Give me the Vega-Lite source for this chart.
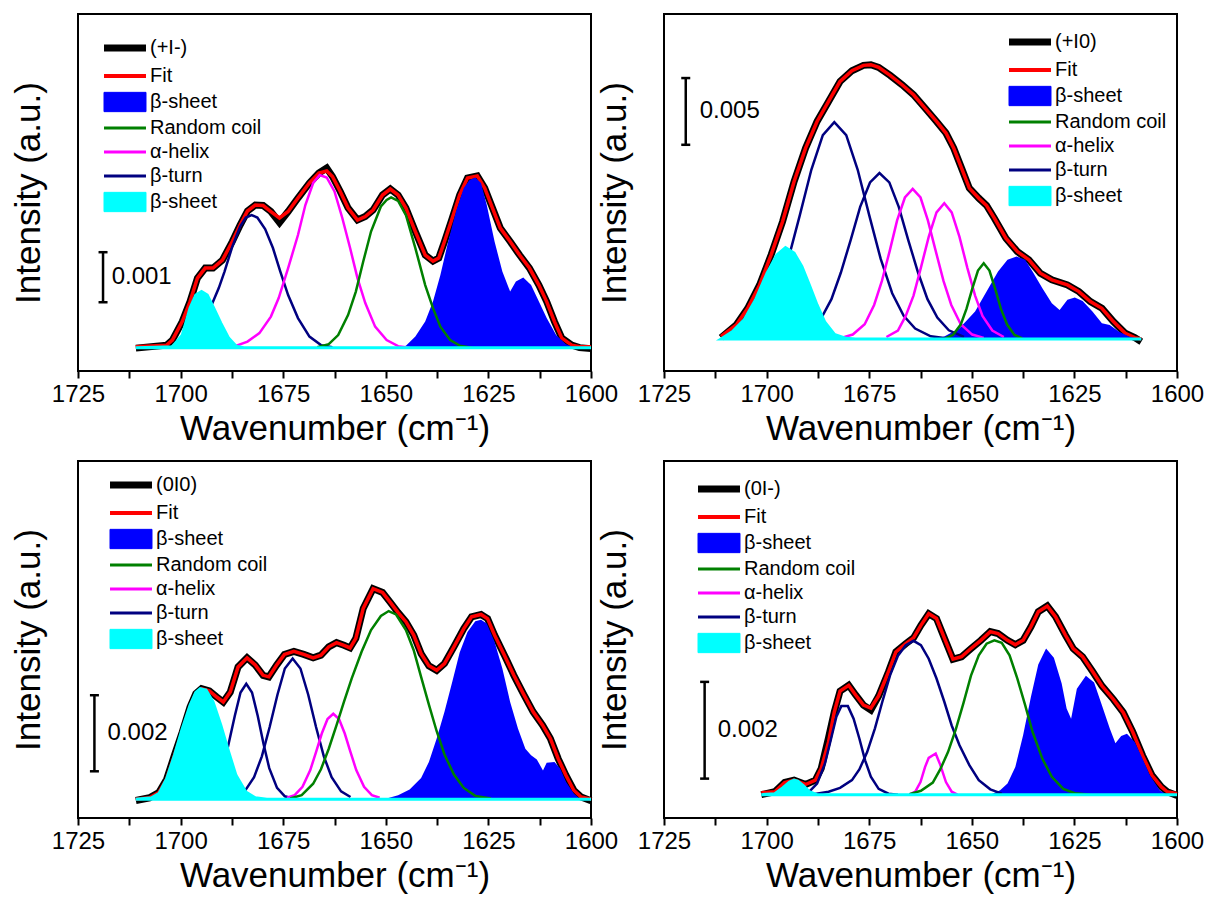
{
"$schema": "https://vega.github.io/schema/vega-lite/v6.json",
"padding": {"left": 10, "top": 12, "right": 0, "bottom": 0},
"config": {
  "font": "Liberation Sans",
  "view": {"stroke": "#000000", "strokeWidth": 2},
  "axis": {"grid": false, "labelColor": "#000000", "titleColor": "#000000", "tickColor": "#000000", "labelFont": "Liberation Sans", "titleFont": "Liberation Sans", "titleFontWeight": "normal"},
  "legend": {"labelFontSize": 20, "labelFont": "Liberation Sans", "labelColor": "#000000", "padding": 0, "rowPadding": 4, "symbolSize": 282, "labelOffset": 15, "labelLimit": 0}
},
"datasets": {
"bars": [
{"p":1,"x":1718.9,"v1":0.000907,"v2":0.001907,"vm":0.001407,"lx":1716.8,"lab":"0.001"},
{"p":2,"x":1719.7,"v1":0.01455,"v2":0.01955,"vm":0.01705,"lx":1716.3,"lab":"0.005"},
{"p":3,"x":1721.0,"v1":0.000737,"v2":0.002737,"vm":0.001737,"lx":1717.8,"lab":"0.002"},
{"p":4,"x":1715.1,"v1":0.000331,"v2":0.002331,"vm":0.001331,"lx":1711.9,"lab":"0.002"}
],
"o1": [
{"x":1710.9,"data":-0.00001,"fit":0.00002},{"x":1703.4,"data":0.00005,"fit":0.00005},{"x":1702.0,"data":0.00015,"fit":0.00015},{"x":1699.6,"data":0.00052,"fit":0.00052},{"x":1697.7,"data":0.00092,"fit":0.00092},{"x":1695.9,"data":0.00139,"fit":0.00139},{"x":1694.0,"data":0.00159,"fit":0.00159},{"x":1692.1,"data":0.00159,"fit":0.00159},{"x":1689.8,"data":0.00175,"fit":0.00175},{"x":1687.4,"data":0.00212,"fit":0.00212},{"x":1685.5,"data":0.00245,"fit":0.00245},{"x":1683.7,"data":0.00273,"fit":0.00273},{"x":1681.8,"data":0.00285,"fit":0.00285},{"x":1679.9,"data":0.00284,"fit":0.00284},{"x":1678.0,"data":0.00272,"fit":0.00272},{"x":1675.9,"data":0.0025,"fit":0.00259},{"x":1673.8,"data":0.00272,"fit":0.00272},{"x":1671.4,"data":0.00299,"fit":0.00299},{"x":1668.6,"data":0.00329,"fit":0.00329},{"x":1666.3,"data":0.00349,"fit":0.00349},{"x":1664.4,"data":0.00359,"fit":0.00353},{"x":1663.0,"data":0.00342,"fit":0.00342},{"x":1661.1,"data":0.00312,"fit":0.00312},{"x":1659.2,"data":0.00279,"fit":0.00279},{"x":1656.9,"data":0.00255,"fit":0.00255},{"x":1655.0,"data":0.00262,"fit":0.00262},{"x":1653.1,"data":0.00275,"fit":0.00275},{"x":1650.8,"data":0.00305,"fit":0.00305},{"x":1648.9,"data":0.00317,"fit":0.00317},{"x":1647.0,"data":0.00305,"fit":0.00305},{"x":1645.1,"data":0.00279,"fit":0.00279},{"x":1642.8,"data":0.00232,"fit":0.00232},{"x":1640.4,"data":0.00185,"fit":0.00185},{"x":1638.5,"data":0.00173,"fit":0.00173},{"x":1637.1,"data":0.00179,"fit":0.00179},{"x":1635.7,"data":0.00212,"fit":0.00212},{"x":1633.8,"data":0.00259,"fit":0.00259},{"x":1632.0,"data":0.00305,"fit":0.00305},{"x":1630.1,"data":0.00339,"fit":0.00339},{"x":1627.7,"data":0.00343,"fit":0.00343},{"x":1625.9,"data":0.00319,"fit":0.00319},{"x":1624.0,"data":0.00279,"fit":0.00279},{"x":1622.1,"data":0.00239,"fit":0.00239},{"x":1619.7,"data":0.00212,"fit":0.00212},{"x":1617.4,"data":0.00185,"fit":0.00185},{"x":1615.0,"data":0.00159,"fit":0.00159},{"x":1612.7,"data":0.00125,"fit":0.00125},{"x":1610.8,"data":0.00092,"fit":0.00092},{"x":1608.9,"data":0.00052,"fit":0.00052},{"x":1607.1,"data":0.00019,"fit":0.00019},{"x":1604.7,"data":0.00005,"fit":0.00005},{"x":1602.8,"data":0.0,"fit":0.00002},{"x":1600.0,"data":-0.00002,"fit":0.00002}
],
"c1": [
{"s":"bs2","k":"bs2","x":1710.9,"y":0},{"s":"bs2","k":"bs2","x":1702.0,"y":0.00002},{"s":"bs2","k":"bs2","x":1699.6,"y":0.00025},{"s":"bs2","k":"bs2","x":1697.7,"y":0.00079},{"s":"bs2","k":"bs2","x":1696.3,"y":0.00105},{"s":"bs2","k":"bs2","x":1694.9,"y":0.00112},{"s":"bs2","k":"bs2","x":1693.5,"y":0.00105},{"s":"bs2","k":"bs2","x":1692.1,"y":0.00082},{"s":"bs2","k":"bs2","x":1690.2,"y":0.00049},{"s":"bs2","k":"bs2","x":1688.3,"y":0.00019},{"s":"bs2","k":"bs2","x":1686.5,"y":0.00003},{"s":"bs2","k":"bs2","x":1684.6,"y":0},{"s":"bs2","k":"bs2","x":1600,"y":0},
{"s":"bt","k":"bt","x":1702.4,"y":0.00001},{"s":"bt","k":"bt","x":1699.6,"y":0.00005},{"s":"bt","k":"bt","x":1696.8,"y":0.00022},{"s":"bt","k":"bt","x":1694.9,"y":0.00042},{"s":"bt","k":"bt","x":1692.6,"y":0.00082},{"s":"bt","k":"bt","x":1690.7,"y":0.00119},{"s":"bt","k":"bt","x":1689.3,"y":0.00152},{"s":"bt","k":"bt","x":1687.4,"y":0.00202},{"s":"bt","k":"bt","x":1685.5,"y":0.00242},{"s":"bt","k":"bt","x":1684.1,"y":0.0026},{"s":"bt","k":"bt","x":1682.7,"y":0.00265},{"s":"bt","k":"bt","x":1681.3,"y":0.0026},{"s":"bt","k":"bt","x":1679.4,"y":0.00237},{"s":"bt","k":"bt","x":1677.5,"y":0.00199},{"s":"bt","k":"bt","x":1675.7,"y":0.00152},{"s":"bt","k":"bt","x":1673.8,"y":0.00105},{"s":"bt","k":"bt","x":1671.4,"y":0.00059},{"s":"bt","k":"bt","x":1668.6,"y":0.00022},{"s":"bt","k":"bt","x":1665.8,"y":0.00005},{"s":"bt","k":"bt","x":1663.0,"y":0.00001},
{"s":"ah","k":"ah","x":1687.4,"y":0.00001},{"s":"ah","k":"ah","x":1683.7,"y":0.00012},{"s":"ah","k":"ah","x":1680.8,"y":0.00029},{"s":"ah","k":"ah","x":1678.0,"y":0.00062},{"s":"ah","k":"ah","x":1676.1,"y":0.00099},{"s":"ah","k":"ah","x":1673.8,"y":0.00159},{"s":"ah","k":"ah","x":1671.4,"y":0.00225},{"s":"ah","k":"ah","x":1669.6,"y":0.00285},{"s":"ah","k":"ah","x":1667.7,"y":0.00329},{"s":"ah","k":"ah","x":1666.1,"y":0.00345},{"s":"ah","k":"ah","x":1664.4,"y":0.0034},{"s":"ah","k":"ah","x":1662.5,"y":0.00312},{"s":"ah","k":"ah","x":1660.6,"y":0.00259},{"s":"ah","k":"ah","x":1658.7,"y":0.00199},{"s":"ah","k":"ah","x":1656.9,"y":0.00139},{"s":"ah","k":"ah","x":1655.0,"y":0.00089},{"s":"ah","k":"ah","x":1652.6,"y":0.00042},{"s":"ah","k":"ah","x":1649.8,"y":0.00015},{"s":"ah","k":"ah","x":1647.0,"y":0.00003},{"s":"ah","k":"ah","x":1644.2,"y":0},
{"s":"rc","k":"rc","x":1666.7,"y":0.00001},{"s":"rc","k":"rc","x":1663.9,"y":0.00007},{"s":"rc","k":"rc","x":1661.6,"y":0.00025},{"s":"rc","k":"rc","x":1659.2,"y":0.00065},{"s":"rc","k":"rc","x":1657.3,"y":0.00112},{"s":"rc","k":"rc","x":1655.5,"y":0.00172},{"s":"rc","k":"rc","x":1653.6,"y":0.00232},{"s":"rc","k":"rc","x":1651.2,"y":0.00282},{"s":"rc","k":"rc","x":1649.8,"y":0.00295},{"s":"rc","k":"rc","x":1648.7,"y":0.003},{"s":"rc","k":"rc","x":1647.0,"y":0.00293},{"s":"rc","k":"rc","x":1645.1,"y":0.00265},{"s":"rc","k":"rc","x":1642.8,"y":0.00199},{"s":"rc","k":"rc","x":1640.4,"y":0.00125},{"s":"rc","k":"rc","x":1638.5,"y":0.00079},{"s":"rc","k":"rc","x":1636.7,"y":0.00042},{"s":"rc","k":"rc","x":1634.3,"y":0.00015},{"s":"rc","k":"rc","x":1632.0,"y":0.00004},{"s":"rc","k":"rc","x":1629.1,"y":0},
{"s":"bs1","k":"bs1","x":1647.0,"y":0},{"s":"bs1","k":"bs1","x":1645.1,"y":0.00004},{"s":"bs1","k":"bs1","x":1642.8,"y":0.00022},{"s":"bs1","k":"bs1","x":1640.4,"y":0.00052},{"s":"bs1","k":"bs1","x":1638.5,"y":0.00092},{"s":"bs1","k":"bs1","x":1636.7,"y":0.00145},{"s":"bs1","k":"bs1","x":1634.8,"y":0.00212},{"s":"bs1","k":"bs1","x":1632.9,"y":0.00272},{"s":"bs1","k":"bs1","x":1631.0,"y":0.00319},{"s":"bs1","k":"bs1","x":1629.6,"y":0.00335},{"s":"bs1","k":"bs1","x":1628.2,"y":0.0034},{"s":"bs1","k":"bs1","x":1626.8,"y":0.00329},{"s":"bs1","k":"bs1","x":1625.4,"y":0.00285},{"s":"bs1","k":"bs1","x":1623.5,"y":0.00212},{"s":"bs1","k":"bs1","x":1621.6,"y":0.00152},{"s":"bs1","k":"bs1","x":1619.7,"y":0.00112},{"s":"bs1","k":"bs1","x":1618.3,"y":0.00132},{"s":"bs1","k":"bs1","x":1616.5,"y":0.0014},{"s":"bs1","k":"bs1","x":1614.6,"y":0.00125},{"s":"bs1","k":"bs1","x":1612.7,"y":0.00092},{"s":"bs1","k":"bs1","x":1610.8,"y":0.00059},{"s":"bs1","k":"bs1","x":1608.5,"y":0.00025},{"s":"bs1","k":"bs1","x":1606.1,"y":0.00007},{"s":"bs1","k":"bs1","x":1603.8,"y":0},{"s":"bs1","k":"bs1","x":1600,"y":0}
],
"o2": [
{"x":1711.1,"data":0.0001,"fit":0.0002},{"x":1707.4,"data":0.00105,"fit":0.00105},{"x":1704.6,"data":0.0023,"fit":0.0023},{"x":1701.7,"data":0.00405,"fit":0.00405},{"x":1698.9,"data":0.0063,"fit":0.0063},{"x":1696.1,"data":0.0088,"fit":0.0088},{"x":1693.3,"data":0.0118,"fit":0.0118},{"x":1690.5,"data":0.0143,"fit":0.0143},{"x":1687.7,"data":0.0163,"fit":0.0163},{"x":1684.9,"data":0.0178,"fit":0.0178},{"x":1682.1,"data":0.0193,"fit":0.0193},{"x":1679.2,"data":0.0201,"fit":0.0201},{"x":1676.4,"data":0.0205,"fit":0.0205},{"x":1674.6,"data":0.02055,"fit":0.02055},{"x":1672.7,"data":0.02035,"fit":0.02035},{"x":1669.9,"data":0.01975,"fit":0.01975},{"x":1667.0,"data":0.01905,"fit":0.01905},{"x":1664.2,"data":0.0183,"fit":0.0183},{"x":1661.4,"data":0.0173,"fit":0.0173},{"x":1658.6,"data":0.0163,"fit":0.0163},{"x":1656.3,"data":0.01543,"fit":0.01543},{"x":1654.4,"data":0.0143,"fit":0.0143},{"x":1652.5,"data":0.0128,"fit":0.0128},{"x":1650.6,"data":0.0113,"fit":0.0113},{"x":1648.3,"data":0.01055,"fit":0.01055},{"x":1646.4,"data":0.01,"fit":0.01},{"x":1644.5,"data":0.00905,"fit":0.00905},{"x":1641.7,"data":0.00755,"fit":0.00755},{"x":1638.9,"data":0.00655,"fit":0.00655},{"x":1636.1,"data":0.00593,"fit":0.00593},{"x":1633.3,"data":0.00493,"fit":0.00493},{"x":1630.5,"data":0.00443,"fit":0.00443},{"x":1626.7,"data":0.00405,"fit":0.00405},{"x":1623.9,"data":0.00355,"fit":0.00355},{"x":1621.1,"data":0.0028,"fit":0.0028},{"x":1618.3,"data":0.0023,"fit":0.0023},{"x":1615.5,"data":0.0013,"fit":0.0013},{"x":1612.6,"data":0.00043,"fit":0.00043},{"x":1610.3,"data":0.0001,"fit":0.0001},{"x":1608.7,"data":-0.0002,"fit":0.0}
],
"c2": [
{"s":"bs2","k":"bs2","x":1711.1,"y":0},{"s":"bs2","k":"bs2","x":1708.3,"y":0.00055},{"s":"bs2","k":"bs2","x":1705.5,"y":0.00143},{"s":"bs2","k":"bs2","x":1702.7,"y":0.00293},{"s":"bs2","k":"bs2","x":1699.9,"y":0.00493},{"s":"bs2","k":"bs2","x":1697.5,"y":0.0063},{"s":"bs2","k":"bs2","x":1695.4,"y":0.00685},{"s":"bs2","k":"bs2","x":1693.3,"y":0.00643},{"s":"bs2","k":"bs2","x":1691.4,"y":0.00543},{"s":"bs2","k":"bs2","x":1689.6,"y":0.00405},{"s":"bs2","k":"bs2","x":1687.7,"y":0.00255},{"s":"bs2","k":"bs2","x":1685.8,"y":0.00125},{"s":"bs2","k":"bs2","x":1683.5,"y":0.00035},{"s":"bs2","k":"bs2","x":1680.6,"y":0.00005},{"s":"bs2","k":"bs2","x":1678.3,"y":0},{"s":"bs2","k":"bs2","x":1608.7,"y":0},
{"s":"bt","k":"bt1","x":1710.7,"y":0.00005},{"s":"bt","k":"bt1","x":1707.0,"y":0.0002},{"s":"bt","k":"bt1","x":1703.2,"y":0.00078},{"s":"bt","k":"bt1","x":1700.3,"y":0.00173},{"s":"bt","k":"bt1","x":1697.5,"y":0.00343},{"s":"bt","k":"bt1","x":1694.7,"y":0.006},{"s":"bt","k":"bt1","x":1691.9,"y":0.00928},{"s":"bt","k":"bt1","x":1689.1,"y":0.01268},{"s":"bt","k":"bt1","x":1686.3,"y":0.01528},{"s":"bt","k":"bt1","x":1683.5,"y":0.01625},{"s":"bt","k":"bt1","x":1680.6,"y":0.01528},{"s":"bt","k":"bt1","x":1677.8,"y":0.01268},{"s":"bt","k":"bt1","x":1675.0,"y":0.00928},{"s":"bt","k":"bt1","x":1672.2,"y":0.006},{"s":"bt","k":"bt1","x":1669.4,"y":0.00343},{"s":"bt","k":"bt1","x":1666.6,"y":0.00173},{"s":"bt","k":"bt1","x":1663.8,"y":0.00078},{"s":"bt","k":"bt1","x":1660.0,"y":0.0002},{"s":"bt","k":"bt1","x":1656.3,"y":0.00005},
{"s":"bt","k":"bt2","x":1693.1,"y":0.00015},{"s":"bt","k":"bt2","x":1689.4,"y":0.00065},{"s":"bt","k":"bt2","x":1686.6,"y":0.0016},{"s":"bt","k":"bt2","x":1684.2,"y":0.00298},{"s":"bt","k":"bt2","x":1681.9,"y":0.00498},{"s":"bt","k":"bt2","x":1679.5,"y":0.00743},{"s":"bt","k":"bt2","x":1677.2,"y":0.0099},{"s":"bt","k":"bt2","x":1674.8,"y":0.01173},{"s":"bt","k":"bt2","x":1672.5,"y":0.01243},{"s":"bt","k":"bt2","x":1670.1,"y":0.01173},{"s":"bt","k":"bt2","x":1667.8,"y":0.0099},{"s":"bt","k":"bt2","x":1665.5,"y":0.00743},{"s":"bt","k":"bt2","x":1663.1,"y":0.00498},{"s":"bt","k":"bt2","x":1660.8,"y":0.00298},{"s":"bt","k":"bt2","x":1658.4,"y":0.0016},{"s":"bt","k":"bt2","x":1655.6,"y":0.00065},{"s":"bt","k":"bt2","x":1651.9,"y":0.00015},
{"s":"ah","k":"ah1","x":1681.8,"y":0.00008},{"s":"ah","k":"ah1","x":1679.0,"y":0.00033},{"s":"ah","k":"ah1","x":1676.1,"y":0.0011},{"s":"ah","k":"ah1","x":1673.8,"y":0.00255},{"s":"ah","k":"ah1","x":1671.9,"y":0.00435},{"s":"ah","k":"ah1","x":1670.0,"y":0.0066},{"s":"ah","k":"ah1","x":1668.2,"y":0.00888},{"s":"ah","k":"ah1","x":1666.3,"y":0.0106},{"s":"ah","k":"ah1","x":1664.4,"y":0.01125},{"s":"ah","k":"ah1","x":1662.5,"y":0.0106},{"s":"ah","k":"ah1","x":1660.7,"y":0.00888},{"s":"ah","k":"ah1","x":1658.8,"y":0.0066},{"s":"ah","k":"ah1","x":1656.9,"y":0.00435},{"s":"ah","k":"ah1","x":1655.0,"y":0.00255},{"s":"ah","k":"ah1","x":1652.7,"y":0.0011},{"s":"ah","k":"ah1","x":1649.9,"y":0.00033},{"s":"ah","k":"ah1","x":1647.1,"y":0.00008},
{"s":"ah","k":"ah2","x":1670.8,"y":0.00015},{"s":"ah","k":"ah2","x":1668.0,"y":0.00063},{"s":"ah","k":"ah2","x":1666.1,"y":0.00173},{"s":"ah","k":"ah2","x":1664.2,"y":0.00325},{"s":"ah","k":"ah2","x":1662.4,"y":0.00535},{"s":"ah","k":"ah2","x":1660.5,"y":0.00765},{"s":"ah","k":"ah2","x":1658.6,"y":0.00948},{"s":"ah","k":"ah2","x":1656.7,"y":0.01018},{"s":"ah","k":"ah2","x":1654.9,"y":0.00948},{"s":"ah","k":"ah2","x":1653.0,"y":0.00765},{"s":"ah","k":"ah2","x":1651.1,"y":0.00535},{"s":"ah","k":"ah2","x":1649.2,"y":0.00325},{"s":"ah","k":"ah2","x":1647.4,"y":0.00173},{"s":"ah","k":"ah2","x":1645.0,"y":0.00063},{"s":"ah","k":"ah2","x":1642.2,"y":0.00015},
{"s":"rc","k":"rc","x":1656.5,"y":0.00005},{"s":"rc","k":"rc","x":1654.6,"y":0.0003},{"s":"rc","k":"rc","x":1652.7,"y":0.00108},{"s":"rc","k":"rc","x":1651.3,"y":0.00225},{"s":"rc","k":"rc","x":1649.9,"y":0.00375},{"s":"rc","k":"rc","x":1648.5,"y":0.00513},{"s":"rc","k":"rc","x":1647.1,"y":0.00568},{"s":"rc","k":"rc","x":1645.7,"y":0.00513},{"s":"rc","k":"rc","x":1644.3,"y":0.00375},{"s":"rc","k":"rc","x":1642.9,"y":0.00225},{"s":"rc","k":"rc","x":1641.4,"y":0.00108},{"s":"rc","k":"rc","x":1639.6,"y":0.0003},{"s":"rc","k":"rc","x":1637.7,"y":0.00005},
{"s":"bs1","k":"bs1","x":1658.6,"y":0},{"s":"bs1","k":"bs1","x":1656.7,"y":0.00018},{"s":"bs1","k":"bs1","x":1653.0,"y":0.0008},{"s":"bs1","k":"bs1","x":1649.2,"y":0.00205},{"s":"bs1","k":"bs1","x":1646.4,"y":0.00355},{"s":"bs1","k":"bs1","x":1643.6,"y":0.00505},{"s":"bs1","k":"bs1","x":1641.3,"y":0.00593},{"s":"bs1","k":"bs1","x":1639.1,"y":0.00618},{"s":"bs1","k":"bs1","x":1637.0,"y":0.00593},{"s":"bs1","k":"bs1","x":1635.2,"y":0.00505},{"s":"bs1","k":"bs1","x":1632.8,"y":0.0038},{"s":"bs1","k":"bs1","x":1630.5,"y":0.00268},{"s":"bs1","k":"bs1","x":1628.6,"y":0.00218},{"s":"bs1","k":"bs1","x":1626.7,"y":0.00293},{"s":"bs1","k":"bs1","x":1624.9,"y":0.0031},{"s":"bs1","k":"bs1","x":1623.0,"y":0.00285},{"s":"bs1","k":"bs1","x":1620.6,"y":0.00205},{"s":"bs1","k":"bs1","x":1618.3,"y":0.00118},{"s":"bs1","k":"bs1","x":1616.4,"y":0.00105},{"s":"bs1","k":"bs1","x":1614.1,"y":0.00055},{"s":"bs1","k":"bs1","x":1611.7,"y":0.00018},{"s":"bs1","k":"bs1","x":1609.4,"y":0}
],
"o3": [
{"x":1710.9,"data":-0.00003,"fit":0.0},{"x":1707.6,"data":0.00004,"fit":0.00004},{"x":1705.3,"data":0.00018,"fit":0.00018},{"x":1703.4,"data":0.00053,"fit":0.00053},{"x":1701.5,"data":0.00116,"fit":0.00116},{"x":1699.6,"data":0.00177,"fit":0.00177},{"x":1697.7,"data":0.00243,"fit":0.00243},{"x":1696.3,"data":0.00278,"fit":0.00278},{"x":1694.9,"data":0.00291,"fit":0.00291},{"x":1693.0,"data":0.00285,"fit":0.00285},{"x":1691.2,"data":0.00269,"fit":0.00269},{"x":1689.6,"data":0.00256,"fit":0.00256},{"x":1687.9,"data":0.00282,"fit":0.00282},{"x":1686.0,"data":0.00348,"fit":0.00348},{"x":1683.8,"data":0.00372,"fit":0.00372},{"x":1681.8,"data":0.00353,"fit":0.00353},{"x":1679.9,"data":0.00326,"fit":0.00326},{"x":1678.5,"data":0.00322,"fit":0.00322},{"x":1676.6,"data":0.00353,"fit":0.00353},{"x":1674.7,"data":0.00381,"fit":0.00381},{"x":1672.4,"data":0.00389,"fit":0.00389},{"x":1670.0,"data":0.00381,"fit":0.00381},{"x":1667.7,"data":0.00372,"fit":0.00372},{"x":1665.8,"data":0.00379,"fit":0.00379},{"x":1663.9,"data":0.00401,"fit":0.00401},{"x":1662.0,"data":0.00412,"fit":0.00412},{"x":1660.2,"data":0.00405,"fit":0.00405},{"x":1658.7,"data":0.00398,"fit":0.00398},{"x":1657.3,"data":0.00423,"fit":0.00423},{"x":1655.5,"data":0.00502,"fit":0.00502},{"x":1653.1,"data":0.00554,"fit":0.00554},{"x":1650.8,"data":0.00544,"fit":0.00544},{"x":1648.9,"data":0.00518,"fit":0.00518},{"x":1647.0,"data":0.00491,"fit":0.00491},{"x":1645.1,"data":0.00467,"fit":0.00467},{"x":1643.2,"data":0.00432,"fit":0.00432},{"x":1641.4,"data":0.00383,"fit":0.00383},{"x":1639.5,"data":0.00351,"fit":0.00351},{"x":1637.6,"data":0.00339,"fit":0.00339},{"x":1635.7,"data":0.00357,"fit":0.00357},{"x":1633.4,"data":0.00401,"fit":0.00401},{"x":1631.0,"data":0.00449,"fit":0.00449},{"x":1629.1,"data":0.0048,"fit":0.0048},{"x":1626.8,"data":0.00486,"fit":0.00486},{"x":1625.2,"data":0.00475,"fit":0.00475},{"x":1623.5,"data":0.00432,"fit":0.00432},{"x":1621.1,"data":0.00379,"fit":0.00379},{"x":1618.8,"data":0.00326,"fit":0.00326},{"x":1616.5,"data":0.00278,"fit":0.00278},{"x":1614.1,"data":0.0023,"fit":0.0023},{"x":1611.8,"data":0.00195,"fit":0.00195},{"x":1609.9,"data":0.0016,"fit":0.0016},{"x":1608.0,"data":0.00107,"fit":0.00107},{"x":1606.1,"data":0.00063,"fit":0.00063},{"x":1604.2,"data":0.00024,"fit":0.00024},{"x":1602.4,"data":0.00006,"fit":0.00006},{"x":1600.0,"data":-0.00004,"fit":0.0}
],
"c3": [
{"s":"bs2","k":"bs2","x":1710.9,"y":0},{"s":"bs2","k":"bs2","x":1707.1,"y":0.00004},{"s":"bs2","k":"bs2","x":1705.3,"y":0.00015},{"s":"bs2","k":"bs2","x":1703.4,"y":0.00054},{"s":"bs2","k":"bs2","x":1701.5,"y":0.00116},{"s":"bs2","k":"bs2","x":1699.6,"y":0.00186},{"s":"bs2","k":"bs2","x":1697.7,"y":0.00247},{"s":"bs2","k":"bs2","x":1696.3,"y":0.00281},{"s":"bs2","k":"bs2","x":1695.2,"y":0.00291},{"s":"bs2","k":"bs2","x":1693.8,"y":0.00287},{"s":"bs2","k":"bs2","x":1692.1,"y":0.00256},{"s":"bs2","k":"bs2","x":1690.2,"y":0.00195},{"s":"bs2","k":"bs2","x":1688.3,"y":0.00125},{"s":"bs2","k":"bs2","x":1686.5,"y":0.00063},{"s":"bs2","k":"bs2","x":1684.1,"y":0.00019},{"s":"bs2","k":"bs2","x":1681.8,"y":0.00004},{"s":"bs2","k":"bs2","x":1679.0,"y":0},{"s":"bs2","k":"bs2","x":1600,"y":0},
{"s":"bt","k":"bt1","x":1695.3,"y":0.00002},{"s":"bt","k":"bt1","x":1693.4,"y":0.00008},{"s":"bt","k":"bt1","x":1691.5,"y":0.0003},{"s":"bt","k":"bt1","x":1689.6,"y":0.00082},{"s":"bt","k":"bt1","x":1688.3,"y":0.00146},{"s":"bt","k":"bt1","x":1686.8,"y":0.00219},{"s":"bt","k":"bt1","x":1685.4,"y":0.00281},{"s":"bt","k":"bt1","x":1684.0,"y":0.00304},{"s":"bt","k":"bt1","x":1682.6,"y":0.00281},{"s":"bt","k":"bt1","x":1681.2,"y":0.00219},{"s":"bt","k":"bt1","x":1679.8,"y":0.00146},{"s":"bt","k":"bt1","x":1678.4,"y":0.00082},{"s":"bt","k":"bt1","x":1676.5,"y":0.0003},{"s":"bt","k":"bt1","x":1674.6,"y":0.00008},{"s":"bt","k":"bt1","x":1672.7,"y":0.00002},
{"s":"bt","k":"bt2","x":1686.8,"y":0.00006},{"s":"bt","k":"bt2","x":1684.4,"y":0.00021},{"s":"bt","k":"bt2","x":1682.1,"y":0.00058},{"s":"bt","k":"bt2","x":1680.2,"y":0.00113},{"s":"bt","k":"bt2","x":1678.3,"y":0.0019},{"s":"bt","k":"bt2","x":1676.4,"y":0.00275},{"s":"bt","k":"bt2","x":1674.6,"y":0.00344},{"s":"bt","k":"bt2","x":1672.7,"y":0.0037},{"s":"bt","k":"bt2","x":1670.8,"y":0.00344},{"s":"bt","k":"bt2","x":1668.9,"y":0.00275},{"s":"bt","k":"bt2","x":1667.0,"y":0.0019},{"s":"bt","k":"bt2","x":1665.1,"y":0.00113},{"s":"bt","k":"bt2","x":1663.2,"y":0.00058},{"s":"bt","k":"bt2","x":1660.9,"y":0.00021},{"s":"bt","k":"bt2","x":1658.6,"y":0.00006},
{"s":"ah","k":"ah","x":1674.1,"y":0.00004},{"s":"ah","k":"ah","x":1672.2,"y":0.00011},{"s":"ah","k":"ah","x":1670.3,"y":0.00033},{"s":"ah","k":"ah","x":1668.4,"y":0.00077},{"s":"ah","k":"ah","x":1667.0,"y":0.00124},{"s":"ah","k":"ah","x":1665.6,"y":0.00173},{"s":"ah","k":"ah","x":1664.2,"y":0.00211},{"s":"ah","k":"ah","x":1662.8,"y":0.00225},{"s":"ah","k":"ah","x":1661.4,"y":0.00211},{"s":"ah","k":"ah","x":1660.0,"y":0.00173},{"s":"ah","k":"ah","x":1658.6,"y":0.00124},{"s":"ah","k":"ah","x":1657.2,"y":0.00077},{"s":"ah","k":"ah","x":1655.3,"y":0.00033},{"s":"ah","k":"ah","x":1653.4,"y":0.00011},{"s":"ah","k":"ah","x":1651.5,"y":0.00004},
{"s":"rc","k":"rc","x":1673.3,"y":0.00002},{"s":"rc","k":"rc","x":1670.5,"y":0.00011},{"s":"rc","k":"rc","x":1667.7,"y":0.00041},{"s":"rc","k":"rc","x":1665.8,"y":0.00079},{"s":"rc","k":"rc","x":1663.9,"y":0.00133},{"s":"rc","k":"rc","x":1662.0,"y":0.00195},{"s":"rc","k":"rc","x":1660.2,"y":0.00256},{"s":"rc","k":"rc","x":1658.3,"y":0.00318},{"s":"rc","k":"rc","x":1655.9,"y":0.00388},{"s":"rc","k":"rc","x":1653.6,"y":0.00445},{"s":"rc","k":"rc","x":1651.2,"y":0.00482},{"s":"rc","k":"rc","x":1649.3,"y":0.00495},{"s":"rc","k":"rc","x":1647.5,"y":0.00486},{"s":"rc","k":"rc","x":1645.1,"y":0.00445},{"s":"rc","k":"rc","x":1643.2,"y":0.00392},{"s":"rc","k":"rc","x":1641.4,"y":0.00322},{"s":"rc","k":"rc","x":1639.5,"y":0.00249},{"s":"rc","k":"rc","x":1637.6,"y":0.00179},{"s":"rc","k":"rc","x":1635.7,"y":0.00118},{"s":"rc","k":"rc","x":1633.4,"y":0.00065},{"s":"rc","k":"rc","x":1631.0,"y":0.0003},{"s":"rc","k":"rc","x":1628.2,"y":0.00009},{"s":"rc","k":"rc","x":1624.4,"y":0.00002},
{"s":"bs1","k":"bs1","x":1651.7,"y":0},{"s":"bs1","k":"bs1","x":1649.8,"y":0.00002},{"s":"bs1","k":"bs1","x":1647.0,"y":0.00011},{"s":"bs1","k":"bs1","x":1644.2,"y":0.00026},{"s":"bs1","k":"bs1","x":1641.4,"y":0.00056},{"s":"bs1","k":"bs1","x":1639.5,"y":0.00098},{"s":"bs1","k":"bs1","x":1637.6,"y":0.0016},{"s":"bs1","k":"bs1","x":1635.7,"y":0.0023},{"s":"bs1","k":"bs1","x":1633.8,"y":0.00309},{"s":"bs1","k":"bs1","x":1632.0,"y":0.00386},{"s":"bs1","k":"bs1","x":1630.1,"y":0.0044},{"s":"bs1","k":"bs1","x":1628.2,"y":0.00468},{"s":"bs1","k":"bs1","x":1626.8,"y":0.00472},{"s":"bs1","k":"bs1","x":1625.4,"y":0.00462},{"s":"bs1","k":"bs1","x":1623.5,"y":0.00414},{"s":"bs1","k":"bs1","x":1621.6,"y":0.00344},{"s":"bs1","k":"bs1","x":1619.7,"y":0.00256},{"s":"bs1","k":"bs1","x":1617.8,"y":0.00186},{"s":"bs1","k":"bs1","x":1616.0,"y":0.00133},{"s":"bs1","k":"bs1","x":1614.6,"y":0.00116},{"s":"bs1","k":"bs1","x":1613.2,"y":0.00105},{"s":"bs1","k":"bs1","x":1611.7,"y":0.00076},{"s":"bs1","k":"bs1","x":1610.8,"y":0.00096},{"s":"bs1","k":"bs1","x":1608.9,"y":0.00098},{"s":"bs1","k":"bs1","x":1607.5,"y":0.00081},{"s":"bs1","k":"bs1","x":1606.1,"y":0.00046},{"s":"bs1","k":"bs1","x":1604.2,"y":0.00015},{"s":"bs1","k":"bs1","x":1602.8,"y":0.00002},{"s":"bs1","k":"bs1","x":1600,"y":0}
],
"o4": [
{"x":1701.3,"data":0.0,"fit":0.00004},{"x":1698.0,"data":0.00006,"fit":0.00006},{"x":1695.6,"data":0.00025,"fit":0.00025},{"x":1693.3,"data":0.0003,"fit":0.0003},{"x":1690.5,"data":0.00021,"fit":0.00021},{"x":1688.1,"data":0.0003,"fit":0.0003},{"x":1686.7,"data":0.00054,"fit":0.00054},{"x":1684.9,"data":0.00118,"fit":0.00109},{"x":1683.5,"data":0.00171,"fit":0.00171},{"x":1682.1,"data":0.00214,"fit":0.00214},{"x":1680.0,"data":0.00226,"fit":0.00226},{"x":1678.3,"data":0.00206,"fit":0.00206},{"x":1676.4,"data":0.00185,"fit":0.00185},{"x":1674.6,"data":0.00175,"fit":0.00179},{"x":1672.7,"data":0.00204,"fit":0.00204},{"x":1670.3,"data":0.00254,"fit":0.00254},{"x":1668.5,"data":0.00295,"fit":0.00295},{"x":1666.1,"data":0.00312,"fit":0.00312},{"x":1664.2,"data":0.00324,"fit":0.00324},{"x":1662.4,"data":0.0035,"fit":0.0035},{"x":1660.5,"data":0.00374,"fit":0.00374},{"x":1658.6,"data":0.00364,"fit":0.00364},{"x":1656.7,"data":0.00324,"fit":0.00324},{"x":1654.6,"data":0.0028,"fit":0.0028},{"x":1652.5,"data":0.00285,"fit":0.00285},{"x":1650.2,"data":0.00302,"fit":0.00302},{"x":1647.8,"data":0.00319,"fit":0.00319},{"x":1645.5,"data":0.00337,"fit":0.00337},{"x":1643.6,"data":0.00333,"fit":0.00333},{"x":1641.3,"data":0.00319,"fit":0.00319},{"x":1639.4,"data":0.0031,"fit":0.0031},{"x":1637.5,"data":0.00319,"fit":0.00319},{"x":1635.6,"data":0.00347,"fit":0.00347},{"x":1633.8,"data":0.00378,"fit":0.00378},{"x":1631.6,"data":0.0039,"fit":0.0039},{"x":1629.6,"data":0.00368,"fit":0.00368},{"x":1627.2,"data":0.0033,"fit":0.0033},{"x":1625.3,"data":0.00302,"fit":0.00302},{"x":1623.0,"data":0.00285,"fit":0.00285},{"x":1620.6,"data":0.00255,"fit":0.00255},{"x":1618.3,"data":0.00225,"fit":0.00225},{"x":1615.5,"data":0.00197,"fit":0.00197},{"x":1613.1,"data":0.0017,"fit":0.0017},{"x":1610.8,"data":0.0013,"fit":0.0013},{"x":1608.4,"data":0.00081,"fit":0.00081},{"x":1606.1,"data":0.0004,"fit":0.0004},{"x":1603.8,"data":0.00016,"fit":0.00016},{"x":1602.4,"data":0.00006,"fit":0.00006},{"x":1600.0,"data":-0.00002,"fit":0.00002}
],
"c4": [
{"s":"bs2","k":"bs2","x":1701.3,"y":0},{"s":"bs2","k":"bs2","x":1698.0,"y":0.00002},{"s":"bs2","k":"bs2","x":1696.1,"y":0.00014},{"s":"bs2","k":"bs2","x":1694.4,"y":0.00026},{"s":"bs2","k":"bs2","x":1693.3,"y":0.0003},{"s":"bs2","k":"bs2","x":1692.4,"y":0.00028},{"s":"bs2","k":"bs2","x":1691.0,"y":0.00018},{"s":"bs2","k":"bs2","x":1689.6,"y":0.00006},{"s":"bs2","k":"bs2","x":1687.7,"y":0},{"s":"bs2","k":"bs2","x":1600,"y":0},
{"s":"bt","k":"bt1","x":1692.4,"y":0},{"s":"bt","k":"bt1","x":1689.6,"y":0.00006},{"s":"bt","k":"bt1","x":1687.7,"y":0.00023},{"s":"bt","k":"bt1","x":1685.8,"y":0.00064},{"s":"bt","k":"bt1","x":1684.4,"y":0.00112},{"s":"bt","k":"bt1","x":1683.0,"y":0.00161},{"s":"bt","k":"bt1","x":1681.8,"y":0.00183},{"s":"bt","k":"bt1","x":1680.2,"y":0.00183},{"s":"bt","k":"bt1","x":1678.8,"y":0.00157},{"s":"bt","k":"bt1","x":1677.4,"y":0.00116},{"s":"bt","k":"bt1","x":1676.0,"y":0.00071},{"s":"bt","k":"bt1","x":1674.6,"y":0.00037},{"s":"bt","k":"bt1","x":1672.7,"y":0.00012},{"s":"bt","k":"bt1","x":1670.3,"y":0.00002},{"s":"bt","k":"bt1","x":1668.0,"y":0},
{"s":"bt","k":"bt2","x":1688.6,"y":0.00001},{"s":"bt","k":"bt2","x":1684.9,"y":0.00006},{"s":"bt","k":"bt2","x":1682.1,"y":0.00014},{"s":"bt","k":"bt2","x":1679.2,"y":0.0003},{"s":"bt","k":"bt2","x":1677.4,"y":0.00052},{"s":"bt","k":"bt2","x":1675.5,"y":0.00088},{"s":"bt","k":"bt2","x":1673.6,"y":0.00137},{"s":"bt","k":"bt2","x":1671.8,"y":0.00192},{"s":"bt","k":"bt2","x":1669.9,"y":0.00247},{"s":"bt","k":"bt2","x":1668.0,"y":0.00287},{"s":"bt","k":"bt2","x":1666.1,"y":0.00309},{"s":"bt","k":"bt2","x":1664.2,"y":0.00318},{"s":"bt","k":"bt2","x":1662.4,"y":0.00309},{"s":"bt","k":"bt2","x":1660.5,"y":0.00281},{"s":"bt","k":"bt2","x":1658.6,"y":0.0024},{"s":"bt","k":"bt2","x":1656.7,"y":0.00192},{"s":"bt","k":"bt2","x":1654.9,"y":0.00143},{"s":"bt","k":"bt2","x":1653.0,"y":0.00102},{"s":"bt","k":"bt2","x":1650.6,"y":0.00061},{"s":"bt","k":"bt2","x":1648.3,"y":0.0003},{"s":"bt","k":"bt2","x":1645.5,"y":0.00011},{"s":"bt","k":"bt2","x":1642.7,"y":0.00002},
{"s":"ah","k":"ah","x":1665.2,"y":0},{"s":"ah","k":"ah","x":1663.8,"y":0.00006},{"s":"ah","k":"ah","x":1662.5,"y":0.00026},{"s":"ah","k":"ah","x":1661.4,"y":0.00057},{"s":"ah","k":"ah","x":1660.5,"y":0.00076},{"s":"ah","k":"ah","x":1658.8,"y":0.00085},{"s":"ah","k":"ah","x":1657.7,"y":0.00062},{"s":"ah","k":"ah","x":1656.3,"y":0.00026},{"s":"ah","k":"ah","x":1654.9,"y":0.00006},{"s":"ah","k":"ah","x":1653.5,"y":0},
{"s":"rc","k":"rc","x":1665.2,"y":0.00001},{"s":"rc","k":"rc","x":1662.4,"y":0.00008},{"s":"rc","k":"rc","x":1659.5,"y":0.00025},{"s":"rc","k":"rc","x":1657.7,"y":0.00052},{"s":"rc","k":"rc","x":1655.8,"y":0.00088},{"s":"rc","k":"rc","x":1653.9,"y":0.00135},{"s":"rc","k":"rc","x":1652.0,"y":0.0019},{"s":"rc","k":"rc","x":1650.2,"y":0.00246},{"s":"rc","k":"rc","x":1648.3,"y":0.00288},{"s":"rc","k":"rc","x":1646.4,"y":0.00312},{"s":"rc","k":"rc","x":1644.5,"y":0.00319},{"s":"rc","k":"rc","x":1642.7,"y":0.00314},{"s":"rc","k":"rc","x":1640.8,"y":0.00288},{"s":"rc","k":"rc","x":1638.9,"y":0.0024},{"s":"rc","k":"rc","x":1637.0,"y":0.00185},{"s":"rc","k":"rc","x":1635.2,"y":0.0013},{"s":"rc","k":"rc","x":1632.8,"y":0.00074},{"s":"rc","k":"rc","x":1630.5,"y":0.00037},{"s":"rc","k":"rc","x":1627.7,"y":0.00012},{"s":"rc","k":"rc","x":1624.9,"y":0.00003},{"s":"rc","k":"rc","x":1621.1,"y":0},
{"s":"bs1","k":"bs1","x":1645.5,"y":0},{"s":"bs1","k":"bs1","x":1643.1,"y":0.00009},{"s":"bs1","k":"bs1","x":1641.3,"y":0.00023},{"s":"bs1","k":"bs1","x":1639.4,"y":0.00057},{"s":"bs1","k":"bs1","x":1637.5,"y":0.00123},{"s":"bs1","k":"bs1","x":1635.6,"y":0.00202},{"s":"bs1","k":"bs1","x":1633.8,"y":0.00269},{"s":"bs1","k":"bs1","x":1631.9,"y":0.00302},{"s":"bs1","k":"bs1","x":1630.0,"y":0.00283},{"s":"bs1","k":"bs1","x":1628.1,"y":0.0023},{"s":"bs1","k":"bs1","x":1626.9,"y":0.00178},{"s":"bs1","k":"bs1","x":1625.8,"y":0.00157},{"s":"bs1","k":"bs1","x":1624.4,"y":0.00219},{"s":"bs1","k":"bs1","x":1622.2,"y":0.00246},{"s":"bs1","k":"bs1","x":1620.2,"y":0.00232},{"s":"bs1","k":"bs1","x":1618.3,"y":0.00185},{"s":"bs1","k":"bs1","x":1616.4,"y":0.00137},{"s":"bs1","k":"bs1","x":1615.0,"y":0.00106},{"s":"bs1","k":"bs1","x":1613.6,"y":0.00121},{"s":"bs1","k":"bs1","x":1612.2,"y":0.00126},{"s":"bs1","k":"bs1","x":1610.3,"y":0.00109},{"s":"bs1","k":"bs1","x":1608.4,"y":0.00074},{"s":"bs1","k":"bs1","x":1606.6,"y":0.0004},{"s":"bs1","k":"bs1","x":1604.2,"y":0.00009},{"s":"bs1","k":"bs1","x":1602.4,"y":0},{"s":"bs1","k":"bs1","x":1600,"y":0}
]
},
"columns": 2,
"spacing": {"row": 90, "column": 73},
"bounds": "flush",
"resolve": {"scale": {"color": "independent", "x": "independent", "y": "independent"}, "legend": {"color": "independent"}},
"concat": [
{
"width": 513, "height": 357,
"layer": [
{"data": {"name": "o1"}, "transform": [{"fold": ["data", "fit"], "as": ["s", "y"]}, {"filter": "datum.s == 'data'"}],
 "mark": {"type": "line", "strokeWidth": 7},
 "encoding": {
  "x": {"field": "x", "type": "quantitative", "scale": {"domain": [1600, 1725], "reverse": true, "nice": false, "zero": false},
   "axis": {"orient": "bottom", "title": "Wavenumber (cm⁻¹)", "values": [1600,1612.5,1625,1637.5,1650,1662.5,1675,1687.5,1700,1712.5,1725], "format": "d", "labelExpr": "datum.value % 25 == 0 ? datum.label : ''", "labelFontSize": 24, "labelFlush": false, "labelOverlap": false, "labelPadding": 4, "titleFontSize": 35, "titlePadding": 5, "domain": false, "tickSize": 7, "tickWidth": 2, "encode": {"ticks": {"update": {"y2": {"signal": "datum.value % 25 == 0 ? 7 : 4"}}}}}},
  "y": {"field": "y", "type": "quantitative", "scale": {"domain": [-0.000467, 0.006667], "nice": false, "zero": false},
   "axis": {"title": "Intensity (a.u.)", "labels": false, "ticks": false, "domain": false, "minExtent": 0, "titleFontSize": 35, "titlePadding": 32}},
  "color": {"field": "s", "type": "nominal", "scale": {"domain": ["data","fit","bs1","rc","ah","bt","bs2"], "range": ["#000000","#ff0000","#0000ff","#008000","#ff00ff","#000080","#00ffff"]},
   "legend": {"orient": "none", "legendX": 37, "legendY": 24, "title": null,
    "labelExpr": "datum.value == 'data' ? '(+I-)' : datum.value == 'fit' ? 'Fit' : datum.value == 'rc' ? 'Random coil' : datum.value == 'ah' ? 'α-helix' : datum.value == 'bt' ? 'β-turn' : 'β-sheet'",
    "encode": {"symbols": {"update": {
     "shape": {"signal": "(datum.value == 'bs1' || datum.value == 'bs2') ? 'M-2.5,-1.15H2.5V1.15H-2.5Z' : 'M-2.5,0H2.5'"},
     "fill": {"signal": "datum.value == 'bs1' ? '#0000ff' : datum.value == 'bs2' ? '#00ffff' : 'transparent'"},
     "stroke": {"signal": "datum.value == 'fit' ? '#ff0000' : datum.value == 'rc' ? '#008000' : datum.value == 'ah' ? '#ff00ff' : datum.value == 'bt' ? '#000080' : '#000000'"},
     "strokeWidth": {"signal": "datum.value == 'data' ? 7 : datum.value == 'fit' ? 4 : (datum.value == 'bs1' || datum.value == 'bs2') ? 1 : 3"},
     "opacity": {"value": 1}}}}}}
 }},
{"data": {"name": "o1"}, "transform": [{"fold": ["data", "fit"], "as": ["s", "y"]}, {"filter": "datum.s == 'fit'"}],
 "mark": {"type": "line", "strokeWidth": 3.5},
 "encoding": {
  "x": {"field": "x", "type": "quantitative", "axis": {"orient": "top", "title": null, "labels": false, "values": [1600,1612.5,1625,1637.5,1650,1662.5,1675,1687.5,1700,1712.5,1725], "domain": false, "tickSize": 0, "minExtent": 0, "tickWidth": 2, "encode": {"ticks": {"update": {"y2": {"signal": "datum.value % 25 == 0 ? 7 : 4"}}}}}},
  "y": {"field": "y", "type": "quantitative"},
  "color": {"field": "s", "type": "nominal", "legend": null}}},
{"data": {"name": "c1"}, "transform": [{"filter": "datum.s == 'bs1'"}],
 "mark": {"type": "area", "opacity": 1},
 "encoding": {"x": {"field": "x", "type": "quantitative", "axis": null}, "y": {"field": "y", "type": "quantitative"}, "color": {"field": "s", "type": "nominal", "legend": null}}},
{"data": {"name": "c1"}, "transform": [{"filter": {"field": "s", "oneOf": ["rc", "ah", "bt"]}}],
 "mark": {"type": "line", "strokeWidth": 2.5},
 "encoding": {"x": {"field": "x", "type": "quantitative", "axis": null}, "y": {"field": "y", "type": "quantitative"}, "color": {"field": "s", "type": "nominal", "legend": null}, "detail": {"field": "k"}}},
{"data": {"name": "c1"}, "transform": [{"filter": "datum.s == 'bs2'"}],
 "mark": {"type": "area", "opacity": 1, "stroke": "#00ffff", "strokeWidth": 3},
 "encoding": {"x": {"field": "x", "type": "quantitative", "axis": null}, "y": {"field": "y", "type": "quantitative"}, "color": {"field": "s", "type": "nominal", "legend": null}}},
{"data": {"name": "bars"}, "transform": [{"filter": "datum.p == 1"}],
 "mark": {"type": "rule", "strokeWidth": 2.5, "color": "#000000"},
 "encoding": {"x": {"field": "x", "type": "quantitative", "axis": null}, "y": {"field": "v1", "type": "quantitative"}, "y2": {"field": "v2"}}},
{"data": {"name": "bars"}, "transform": [{"filter": "datum.p == 1"}],
 "mark": {"type": "tick", "orient": "horizontal", "size": 9, "thickness": 2.5, "color": "#000000", "opacity": 1},
 "encoding": {"x": {"field": "x", "type": "quantitative", "axis": null}, "y": {"field": "v1", "type": "quantitative"}}},
{"data": {"name": "bars"}, "transform": [{"filter": "datum.p == 1"}],
 "mark": {"type": "tick", "orient": "horizontal", "size": 9, "thickness": 2.5, "color": "#000000", "opacity": 1},
 "encoding": {"x": {"field": "x", "type": "quantitative", "axis": null}, "y": {"field": "v2", "type": "quantitative"}}},
{"data": {"name": "bars"}, "transform": [{"filter": "datum.p == 1"}],
 "mark": {"type": "text", "align": "left", "baseline": "middle", "fontSize": 24, "font": "Liberation Sans", "color": "#000000"},
 "encoding": {"x": {"field": "lx", "type": "quantitative", "axis": null}, "y": {"field": "vm", "type": "quantitative"}, "text": {"field": "lab"}}}
]
},
{
"width": 513, "height": 357,
"layer": [
{"data": {"name": "o2"}, "transform": [{"fold": ["data", "fit"], "as": ["s", "y"]}, {"filter": "datum.s == 'data'"}],
 "mark": {"type": "line", "strokeWidth": 7},
 "encoding": {
  "x": {"field": "x", "type": "quantitative", "scale": {"domain": [1600, 1725], "reverse": true, "nice": false, "zero": false},
   "axis": {"orient": "bottom", "title": "Wavenumber (cm⁻¹)", "values": [1600,1612.5,1625,1637.5,1650,1662.5,1675,1687.5,1700,1712.5,1725], "format": "d", "labelExpr": "datum.value % 25 == 0 ? datum.label : ''", "labelFontSize": 24, "labelFlush": false, "labelOverlap": false, "labelPadding": 4, "titleFontSize": 35, "titlePadding": 5, "domain": false, "tickSize": 7, "tickWidth": 2, "encode": {"ticks": {"update": {"y2": {"signal": "datum.value % 25 == 0 ? 7 : 4"}}}}}},
  "y": {"field": "y", "type": "quantitative", "scale": {"domain": [-0.0024, 0.02435], "nice": false, "zero": false},
   "axis": {"title": "Intensity (a.u.)", "labels": false, "ticks": false, "domain": false, "minExtent": 0, "titleFontSize": 35, "titlePadding": 32}},
  "color": {"field": "s", "type": "nominal", "scale": {"domain": ["data","fit","bs1","rc","ah","bt","bs2"], "range": ["#000000","#ff0000","#0000ff","#008000","#ff00ff","#000080","#00ffff"]},
   "legend": {"orient": "none", "legendX": 356, "legendY": 18, "title": null,
    "labelExpr": "datum.value == 'data' ? '(+I0)' : datum.value == 'fit' ? 'Fit' : datum.value == 'rc' ? 'Random coil' : datum.value == 'ah' ? 'α-helix' : datum.value == 'bt' ? 'β-turn' : 'β-sheet'",
    "encode": {"symbols": {"update": {
     "shape": {"signal": "(datum.value == 'bs1' || datum.value == 'bs2') ? 'M-2.5,-1.15H2.5V1.15H-2.5Z' : 'M-2.5,0H2.5'"},
     "fill": {"signal": "datum.value == 'bs1' ? '#0000ff' : datum.value == 'bs2' ? '#00ffff' : 'transparent'"},
     "stroke": {"signal": "datum.value == 'fit' ? '#ff0000' : datum.value == 'rc' ? '#008000' : datum.value == 'ah' ? '#ff00ff' : datum.value == 'bt' ? '#000080' : '#000000'"},
     "strokeWidth": {"signal": "datum.value == 'data' ? 7 : datum.value == 'fit' ? 4 : (datum.value == 'bs1' || datum.value == 'bs2') ? 1 : 3"},
     "opacity": {"value": 1}}}}}}
 }},
{"data": {"name": "o2"}, "transform": [{"fold": ["data", "fit"], "as": ["s", "y"]}, {"filter": "datum.s == 'fit'"}],
 "mark": {"type": "line", "strokeWidth": 3.5},
 "encoding": {
  "x": {"field": "x", "type": "quantitative", "axis": {"orient": "top", "title": null, "labels": false, "values": [1600,1612.5,1625,1637.5,1650,1662.5,1675,1687.5,1700,1712.5,1725], "domain": false, "tickSize": 0, "minExtent": 0, "tickWidth": 2, "encode": {"ticks": {"update": {"y2": {"signal": "datum.value % 25 == 0 ? 7 : 4"}}}}}},
  "y": {"field": "y", "type": "quantitative"},
  "color": {"field": "s", "type": "nominal", "legend": null}}},
{"data": {"name": "c2"}, "transform": [{"filter": "datum.s == 'bs1'"}],
 "mark": {"type": "area", "opacity": 1},
 "encoding": {"x": {"field": "x", "type": "quantitative", "axis": null}, "y": {"field": "y", "type": "quantitative"}, "color": {"field": "s", "type": "nominal", "legend": null}}},
{"data": {"name": "c2"}, "transform": [{"filter": {"field": "s", "oneOf": ["rc", "ah", "bt"]}}],
 "mark": {"type": "line", "strokeWidth": 2.5},
 "encoding": {"x": {"field": "x", "type": "quantitative", "axis": null}, "y": {"field": "y", "type": "quantitative"}, "color": {"field": "s", "type": "nominal", "legend": null}, "detail": {"field": "k"}}},
{"data": {"name": "c2"}, "transform": [{"filter": "datum.s == 'bs2'"}],
 "mark": {"type": "area", "opacity": 1, "stroke": "#00ffff", "strokeWidth": 3},
 "encoding": {"x": {"field": "x", "type": "quantitative", "axis": null}, "y": {"field": "y", "type": "quantitative"}, "color": {"field": "s", "type": "nominal", "legend": null}}},
{"data": {"name": "bars"}, "transform": [{"filter": "datum.p == 2"}],
 "mark": {"type": "rule", "strokeWidth": 2.5, "color": "#000000"},
 "encoding": {"x": {"field": "x", "type": "quantitative", "axis": null}, "y": {"field": "v1", "type": "quantitative"}, "y2": {"field": "v2"}}},
{"data": {"name": "bars"}, "transform": [{"filter": "datum.p == 2"}],
 "mark": {"type": "tick", "orient": "horizontal", "size": 9, "thickness": 2.5, "color": "#000000", "opacity": 1},
 "encoding": {"x": {"field": "x", "type": "quantitative", "axis": null}, "y": {"field": "v1", "type": "quantitative"}}},
{"data": {"name": "bars"}, "transform": [{"filter": "datum.p == 2"}],
 "mark": {"type": "tick", "orient": "horizontal", "size": 9, "thickness": 2.5, "color": "#000000", "opacity": 1},
 "encoding": {"x": {"field": "x", "type": "quantitative", "axis": null}, "y": {"field": "v2", "type": "quantitative"}}},
{"data": {"name": "bars"}, "transform": [{"filter": "datum.p == 2"}],
 "mark": {"type": "text", "align": "left", "baseline": "middle", "fontSize": 24, "font": "Liberation Sans", "color": "#000000"},
 "encoding": {"x": {"field": "lx", "type": "quantitative", "axis": null}, "y": {"field": "vm", "type": "quantitative"}, "text": {"field": "lab"}}}
]
},
{
"width": 513, "height": 357,
"layer": [
{"data": {"name": "o3"}, "transform": [{"fold": ["data", "fit"], "as": ["s", "y"]}, {"filter": "datum.s == 'data'"}],
 "mark": {"type": "line", "strokeWidth": 7},
 "encoding": {
  "x": {"field": "x", "type": "quantitative", "scale": {"domain": [1600, 1725], "reverse": true, "nice": false, "zero": false},
   "axis": {"orient": "bottom", "title": "Wavenumber (cm⁻¹)", "values": [1600,1612.5,1625,1637.5,1650,1662.5,1675,1687.5,1700,1712.5,1725], "format": "d", "labelExpr": "datum.value % 25 == 0 ? datum.label : ''", "labelFontSize": 24, "labelFlush": false, "labelOverlap": false, "labelPadding": 4, "titleFontSize": 35, "titlePadding": 5, "domain": false, "tickSize": 7, "tickWidth": 2, "encode": {"ticks": {"update": {"y2": {"signal": "datum.value % 25 == 0 ? 7 : 4"}}}}}},
  "y": {"field": "y", "type": "quantitative", "scale": {"domain": [-0.000491, 0.008895], "nice": false, "zero": false},
   "axis": {"title": "Intensity (a.u.)", "labels": false, "ticks": false, "domain": false, "minExtent": 0, "titleFontSize": 35, "titlePadding": 32}},
  "color": {"field": "s", "type": "nominal", "scale": {"domain": ["data","fit","bs1","rc","ah","bt","bs2"], "range": ["#000000","#ff0000","#0000ff","#008000","#ff00ff","#000080","#00ffff"]},
   "legend": {"orient": "none", "legendX": 43, "legendY": 14, "title": null,
    "labelExpr": "datum.value == 'data' ? '(0I0)' : datum.value == 'fit' ? 'Fit' : datum.value == 'rc' ? 'Random coil' : datum.value == 'ah' ? 'α-helix' : datum.value == 'bt' ? 'β-turn' : 'β-sheet'",
    "encode": {"symbols": {"update": {
     "shape": {"signal": "(datum.value == 'bs1' || datum.value == 'bs2') ? 'M-2.5,-1.15H2.5V1.15H-2.5Z' : 'M-2.5,0H2.5'"},
     "fill": {"signal": "datum.value == 'bs1' ? '#0000ff' : datum.value == 'bs2' ? '#00ffff' : 'transparent'"},
     "stroke": {"signal": "datum.value == 'fit' ? '#ff0000' : datum.value == 'rc' ? '#008000' : datum.value == 'ah' ? '#ff00ff' : datum.value == 'bt' ? '#000080' : '#000000'"},
     "strokeWidth": {"signal": "datum.value == 'data' ? 7 : datum.value == 'fit' ? 4 : (datum.value == 'bs1' || datum.value == 'bs2') ? 1 : 3"},
     "opacity": {"value": 1}}}}}}
 }},
{"data": {"name": "o3"}, "transform": [{"fold": ["data", "fit"], "as": ["s", "y"]}, {"filter": "datum.s == 'fit'"}],
 "mark": {"type": "line", "strokeWidth": 3.5},
 "encoding": {
  "x": {"field": "x", "type": "quantitative", "axis": {"orient": "top", "title": null, "labels": false, "values": [1600,1612.5,1625,1637.5,1650,1662.5,1675,1687.5,1700,1712.5,1725], "domain": false, "tickSize": 0, "minExtent": 0, "tickWidth": 2, "encode": {"ticks": {"update": {"y2": {"signal": "datum.value % 25 == 0 ? 7 : 4"}}}}}},
  "y": {"field": "y", "type": "quantitative"},
  "color": {"field": "s", "type": "nominal", "legend": null}}},
{"data": {"name": "c3"}, "transform": [{"filter": "datum.s == 'bs1'"}],
 "mark": {"type": "area", "opacity": 1},
 "encoding": {"x": {"field": "x", "type": "quantitative", "axis": null}, "y": {"field": "y", "type": "quantitative"}, "color": {"field": "s", "type": "nominal", "legend": null}}},
{"data": {"name": "c3"}, "transform": [{"filter": {"field": "s", "oneOf": ["rc", "ah", "bt"]}}],
 "mark": {"type": "line", "strokeWidth": 2.5},
 "encoding": {"x": {"field": "x", "type": "quantitative", "axis": null}, "y": {"field": "y", "type": "quantitative"}, "color": {"field": "s", "type": "nominal", "legend": null}, "detail": {"field": "k"}}},
{"data": {"name": "c3"}, "transform": [{"filter": "datum.s == 'bs2'"}],
 "mark": {"type": "area", "opacity": 1, "stroke": "#00ffff", "strokeWidth": 3},
 "encoding": {"x": {"field": "x", "type": "quantitative", "axis": null}, "y": {"field": "y", "type": "quantitative"}, "color": {"field": "s", "type": "nominal", "legend": null}}},
{"data": {"name": "bars"}, "transform": [{"filter": "datum.p == 3"}],
 "mark": {"type": "rule", "strokeWidth": 2.5, "color": "#000000"},
 "encoding": {"x": {"field": "x", "type": "quantitative", "axis": null}, "y": {"field": "v1", "type": "quantitative"}, "y2": {"field": "v2"}}},
{"data": {"name": "bars"}, "transform": [{"filter": "datum.p == 3"}],
 "mark": {"type": "tick", "orient": "horizontal", "size": 9, "thickness": 2.5, "color": "#000000", "opacity": 1},
 "encoding": {"x": {"field": "x", "type": "quantitative", "axis": null}, "y": {"field": "v1", "type": "quantitative"}}},
{"data": {"name": "bars"}, "transform": [{"filter": "datum.p == 3"}],
 "mark": {"type": "tick", "orient": "horizontal", "size": 9, "thickness": 2.5, "color": "#000000", "opacity": 1},
 "encoding": {"x": {"field": "x", "type": "quantitative", "axis": null}, "y": {"field": "v2", "type": "quantitative"}}},
{"data": {"name": "bars"}, "transform": [{"filter": "datum.p == 3"}],
 "mark": {"type": "text", "align": "left", "baseline": "middle", "fontSize": 24, "font": "Liberation Sans", "color": "#000000"},
 "encoding": {"x": {"field": "lx", "type": "quantitative", "axis": null}, "y": {"field": "vm", "type": "quantitative"}, "text": {"field": "lab"}}}
]
},
{
"width": 513, "height": 357,
"layer": [
{"data": {"name": "o4"}, "transform": [{"fold": ["data", "fit"], "as": ["s", "y"]}, {"filter": "datum.s == 'data'"}],
 "mark": {"type": "line", "strokeWidth": 7},
 "encoding": {
  "x": {"field": "x", "type": "quantitative", "scale": {"domain": [1600, 1725], "reverse": true, "nice": false, "zero": false},
   "axis": {"orient": "bottom", "title": "Wavenumber (cm⁻¹)", "values": [1600,1612.5,1625,1637.5,1650,1662.5,1675,1687.5,1700,1712.5,1725], "format": "d", "labelExpr": "datum.value % 25 == 0 ? datum.label : ''", "labelFontSize": 24, "labelFlush": false, "labelOverlap": false, "labelPadding": 4, "titleFontSize": 35, "titlePadding": 5, "domain": false, "tickSize": 7, "tickWidth": 2, "encode": {"ticks": {"update": {"y2": {"signal": "datum.value % 25 == 0 ? 7 : 4"}}}}}},
  "y": {"field": "y", "type": "quantitative", "scale": {"domain": [-0.000483, 0.006897], "nice": false, "zero": false},
   "axis": {"title": "Intensity (a.u.)", "labels": false, "ticks": false, "domain": false, "minExtent": 0, "titleFontSize": 35, "titlePadding": 32}},
  "color": {"field": "s", "type": "nominal", "scale": {"domain": ["data","fit","bs1","rc","ah","bt","bs2"], "range": ["#000000","#ff0000","#0000ff","#008000","#ff00ff","#000080","#00ffff"]},
   "legend": {"orient": "none", "legendX": 45, "legendY": 18, "title": null,
    "labelExpr": "datum.value == 'data' ? '(0I-)' : datum.value == 'fit' ? 'Fit' : datum.value == 'rc' ? 'Random coil' : datum.value == 'ah' ? 'α-helix' : datum.value == 'bt' ? 'β-turn' : 'β-sheet'",
    "encode": {"symbols": {"update": {
     "shape": {"signal": "(datum.value == 'bs1' || datum.value == 'bs2') ? 'M-2.5,-1.15H2.5V1.15H-2.5Z' : 'M-2.5,0H2.5'"},
     "fill": {"signal": "datum.value == 'bs1' ? '#0000ff' : datum.value == 'bs2' ? '#00ffff' : 'transparent'"},
     "stroke": {"signal": "datum.value == 'fit' ? '#ff0000' : datum.value == 'rc' ? '#008000' : datum.value == 'ah' ? '#ff00ff' : datum.value == 'bt' ? '#000080' : '#000000'"},
     "strokeWidth": {"signal": "datum.value == 'data' ? 7 : datum.value == 'fit' ? 4 : (datum.value == 'bs1' || datum.value == 'bs2') ? 1 : 3"},
     "opacity": {"value": 1}}}}}}
 }},
{"data": {"name": "o4"}, "transform": [{"fold": ["data", "fit"], "as": ["s", "y"]}, {"filter": "datum.s == 'fit'"}],
 "mark": {"type": "line", "strokeWidth": 3.5},
 "encoding": {
  "x": {"field": "x", "type": "quantitative", "axis": {"orient": "top", "title": null, "labels": false, "values": [1600,1612.5,1625,1637.5,1650,1662.5,1675,1687.5,1700,1712.5,1725], "domain": false, "tickSize": 0, "minExtent": 0, "tickWidth": 2, "encode": {"ticks": {"update": {"y2": {"signal": "datum.value % 25 == 0 ? 7 : 4"}}}}}},
  "y": {"field": "y", "type": "quantitative"},
  "color": {"field": "s", "type": "nominal", "legend": null}}},
{"data": {"name": "c4"}, "transform": [{"filter": "datum.s == 'bs1'"}],
 "mark": {"type": "area", "opacity": 1},
 "encoding": {"x": {"field": "x", "type": "quantitative", "axis": null}, "y": {"field": "y", "type": "quantitative"}, "color": {"field": "s", "type": "nominal", "legend": null}}},
{"data": {"name": "c4"}, "transform": [{"filter": {"field": "s", "oneOf": ["rc", "ah", "bt"]}}],
 "mark": {"type": "line", "strokeWidth": 2.5},
 "encoding": {"x": {"field": "x", "type": "quantitative", "axis": null}, "y": {"field": "y", "type": "quantitative"}, "color": {"field": "s", "type": "nominal", "legend": null}, "detail": {"field": "k"}}},
{"data": {"name": "c4"}, "transform": [{"filter": "datum.s == 'bs2'"}],
 "mark": {"type": "area", "opacity": 1, "stroke": "#00ffff", "strokeWidth": 3},
 "encoding": {"x": {"field": "x", "type": "quantitative", "axis": null}, "y": {"field": "y", "type": "quantitative"}, "color": {"field": "s", "type": "nominal", "legend": null}}},
{"data": {"name": "bars"}, "transform": [{"filter": "datum.p == 4"}],
 "mark": {"type": "rule", "strokeWidth": 2.5, "color": "#000000"},
 "encoding": {"x": {"field": "x", "type": "quantitative", "axis": null}, "y": {"field": "v1", "type": "quantitative"}, "y2": {"field": "v2"}}},
{"data": {"name": "bars"}, "transform": [{"filter": "datum.p == 4"}],
 "mark": {"type": "tick", "orient": "horizontal", "size": 9, "thickness": 2.5, "color": "#000000", "opacity": 1},
 "encoding": {"x": {"field": "x", "type": "quantitative", "axis": null}, "y": {"field": "v1", "type": "quantitative"}}},
{"data": {"name": "bars"}, "transform": [{"filter": "datum.p == 4"}],
 "mark": {"type": "tick", "orient": "horizontal", "size": 9, "thickness": 2.5, "color": "#000000", "opacity": 1},
 "encoding": {"x": {"field": "x", "type": "quantitative", "axis": null}, "y": {"field": "v2", "type": "quantitative"}}},
{"data": {"name": "bars"}, "transform": [{"filter": "datum.p == 4"}],
 "mark": {"type": "text", "align": "left", "baseline": "middle", "fontSize": 24, "font": "Liberation Sans", "color": "#000000"},
 "encoding": {"x": {"field": "lx", "type": "quantitative", "axis": null}, "y": {"field": "vm", "type": "quantitative"}, "text": {"field": "lab"}}}
]
}
]
}
